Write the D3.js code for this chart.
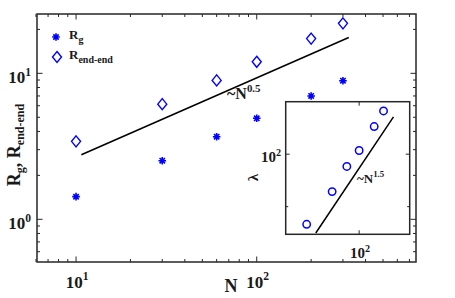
<!DOCTYPE html>
<html>
<head>
<meta charset="utf-8">
<script src="https://cdn.jsdelivr.net/npm/d3@7"></script>
<style>
  body { margin: 0; background: #fff; }
  svg text { font-family: "Liberation Serif", "Times New Roman", serif; font-weight: bold; fill: #1a1a1a; }
</style>
</head>
<body>
<svg id="chart" width="455" height="298"></svg>
<script>
// main plot data
const chainN = [10, 30, 60, 100, 200, 300]
const rg = [1.43, 2.52, 3.68, 4.92, 7.0, 8.9]
const rEnd = [3.42, 6.15, 8.95, 12.0, 17.3, 22.0]
// fit line ~N^0.5 (end points)
const fitN = [10.7, 323]
const fitR = [2.77, 17.6]

// inset data
const insetN = [50, 70, 85, 100, 122, 138]
const lambda = [39.6, 61, 85, 105, 144, 177]
const insetFitN = [56.4, 157.4]
const insetFitL = [35.3, 163.8]

// ticks
const xMajor = [10, 100]
const xMinor = [6, 7, 8, 9, 20, 30, 40, 50, 60, 70, 80, 90, 200, 300, 400, 500, 600, 700]
const yMajor = [1, 10]
const yMinor = [0.6, 0.7, 0.8, 0.9, 2, 3, 4, 5, 6, 7, 8, 9, 20]
const inXMajor = [100]
const inYMajor = [100]
const inYMinor = [50]

const blue = "#0000ff"
const axisCol = "#262626"

const svg = d3.select("#chart")

const box = {l: 37, r: 416, t: 14, b: 262}
const x = d3.scaleLog().domain([6.08, 761]).range([box.l, box.r])
const y = d3.scaleLog().domain([0.51, 25.5]).range([box.b, box.t])

function asterisk(r) {
    const d = r * 0.707
    return "M" + (-r) + ",0L" + r + ",0M0," + (-r) + "L0," + r +
        "M" + (-d) + "," + (-d) + "L" + d + "," + d + "M" + (-d) + "," + d + "L" + d + "," + (-d)
}
function diamond(w, h) {
    return "M0," + (-h) + "L" + w + ",0L0," + h + "L" + (-w) + ",0Z"
}

// draw ticks on all four sides of a box, pointing inward
function boxTicks(g, sx, sy, b, xs, ys) {
    xs.forEach(function (t) {
        const px = sx(t[0])
        g.append("line").attr("x1", px).attr("x2", px).attr("y1", b.b).attr("y2", b.b - t[1])
            .attr("stroke", axisCol).attr("stroke-width", 1)
        g.append("line").attr("x1", px).attr("x2", px).attr("y1", b.t).attr("y2", b.t + t[1])
            .attr("stroke", axisCol).attr("stroke-width", 1)
    })
    ys.forEach(function (t) {
        const py = sy(t[0])
        g.append("line").attr("x1", b.l).attr("x2", b.l + t[1]).attr("y1", py).attr("y2", py)
            .attr("stroke", axisCol).attr("stroke-width", 1)
        g.append("line").attr("x1", b.r).attr("x2", b.r - t[1]).attr("y1", py).attr("y2", py)
            .attr("stroke", axisCol).attr("stroke-width", 1)
    })
}

function powLabel(g, px, py, base, exp, size, anchor) {
    const t = g.append("text").attr("x", px).attr("y", py).attr("text-anchor", anchor)
        .style("font-size", size + "px")
    t.append("tspan").text(base)
    t.append("tspan").attr("dy", -size * 0.42).style("font-size", (size * 0.68) + "px").text(exp)
    return t
}

// ---- main axes ----
const main = svg.append("g")
main.append("rect").attr("x", box.l).attr("y", box.t)
    .attr("width", box.r - box.l).attr("height", box.b - box.t)
    .attr("fill", "none").attr("stroke", axisCol).attr("stroke-width", 1.5)

boxTicks(main, x, y, box,
    xMajor.map(v => [v, 5.5]).concat(xMinor.map(v => [v, 3])),
    yMajor.map(v => [v, 5.5]).concat(yMinor.map(v => [v, 3])))

xMajor.forEach(function (v) {
    powLabel(main, x(v) + 1, 287.5, "10", Math.round(Math.log10(v)), 17, "middle")
})
yMajor.forEach(function (v) {
    powLabel(main, 31, y(v) + 9.5, "10", Math.round(Math.log10(v)), 17, "end")
})

main.append("text").attr("x", 231).attr("y", 291.5).attr("text-anchor", "middle")
    .style("font-size", "18px").text("N")

const yTitle = main.append("text").attr("transform", "translate(20,145) rotate(-90)")
    .attr("text-anchor", "middle").style("font-size", "18px")
yTitle.append("tspan").text("R")
yTitle.append("tspan").attr("dy", 4).style("font-size", "12px").text("g")
yTitle.append("tspan").attr("dy", -4).text(", R")
yTitle.append("tspan").attr("dy", 4).style("font-size", "12px").text("end-end")

// fit line
main.append("line")
    .attr("x1", x(fitN[0])).attr("y1", y(fitR[0]))
    .attr("x2", x(fitN[1])).attr("y2", y(fitR[1]))
    .attr("stroke", "#000").attr("stroke-width", 1.5)
powLabel(main, 227, 99, "~N", "0.5", 16, "start")

// data
main.selectAll("path.rg").data(chainN).join("path").attr("class", "rg")
    .attr("d", asterisk(3.8))
    .attr("transform", (d, i) => "translate(" + x(d) + "," + y(rg[i]) + ")")
    .attr("stroke", blue).attr("stroke-width", 1.6).attr("fill", "none")
main.selectAll("path.re").data(chainN).join("path").attr("class", "re")
    .attr("d", diamond(4.5, 5.5))
    .attr("transform", (d, i) => "translate(" + x(d) + "," + y(rEnd[i]) + ")")
    .attr("stroke", blue).attr("stroke-width", 1.4).attr("fill", "none")

// legend
const leg = main.append("g")
leg.append("path").attr("d", asterisk(3.8)).attr("transform", "translate(56,37)")
    .attr("stroke", blue).attr("stroke-width", 1.6).attr("fill", "none")
leg.append("path").attr("d", diamond(4.5, 5.5)).attr("transform", "translate(57,57)")
    .attr("stroke", blue).attr("stroke-width", 1.4).attr("fill", "none")
const l1 = leg.append("text").attr("x", 69).attr("y", 39).style("font-size", "13px")
l1.append("tspan").text("R")
l1.append("tspan").attr("dy", 4).style("font-size", "10px").text("g")
const l2 = leg.append("text").attr("x", 69).attr("y", 59).style("font-size", "13px")
l2.append("tspan").text("R")
l2.append("tspan").attr("dy", 4).style("font-size", "10px").text("end-end")

// ---- inset ----
const ib = {l: 285.7, r: 409.7, t: 101.7, b: 234.3}
const ix = d3.scaleLog().domain([37.9, 195]).range([ib.l, ib.r])
const iy = d3.scaleLog().domain([34.7, 200]).range([ib.b, ib.t])

const inset = svg.append("g")
inset.append("rect").attr("x", ib.l).attr("y", ib.t)
    .attr("width", ib.r - ib.l).attr("height", ib.b - ib.t)
    .attr("fill", "#fff").attr("stroke", axisCol).attr("stroke-width", 1.5)

boxTicks(inset, ix, iy, ib,
    inXMajor.map(v => [v, 4]),
    inYMajor.map(v => [v, 4]).concat(inYMinor.map(v => [v, 2.5])))

inXMajor.forEach(function (v) {
    powLabel(inset, ix(v) + 1, 258, "10", Math.round(Math.log10(v)), 15, "middle")
})
inYMajor.forEach(function (v) {
    powLabel(inset, 281, iy(v) + 8, "10", Math.round(Math.log10(v)), 15, "end")
})
inset.append("text").attr("transform", "translate(258,177.5) rotate(-90)")
    .attr("text-anchor", "middle").style("font-size", "15px").text("λ")

inset.append("line")
    .attr("x1", ix(insetFitN[0])).attr("y1", iy(insetFitL[0]))
    .attr("x2", ix(insetFitN[1])).attr("y2", iy(insetFitL[1]))
    .attr("stroke", "#000").attr("stroke-width", 1.5)
powLabel(inset, 357, 182.5, "~N", "1.5", 13, "start")

inset.selectAll("circle").data(insetN).join("circle")
    .attr("cx", d => ix(d)).attr("cy", (d, i) => iy(lambda[i])).attr("r", 3.7)
    .attr("stroke", blue).attr("stroke-width", 1.5).attr("fill", "none")
</script>
</body>
</html>
